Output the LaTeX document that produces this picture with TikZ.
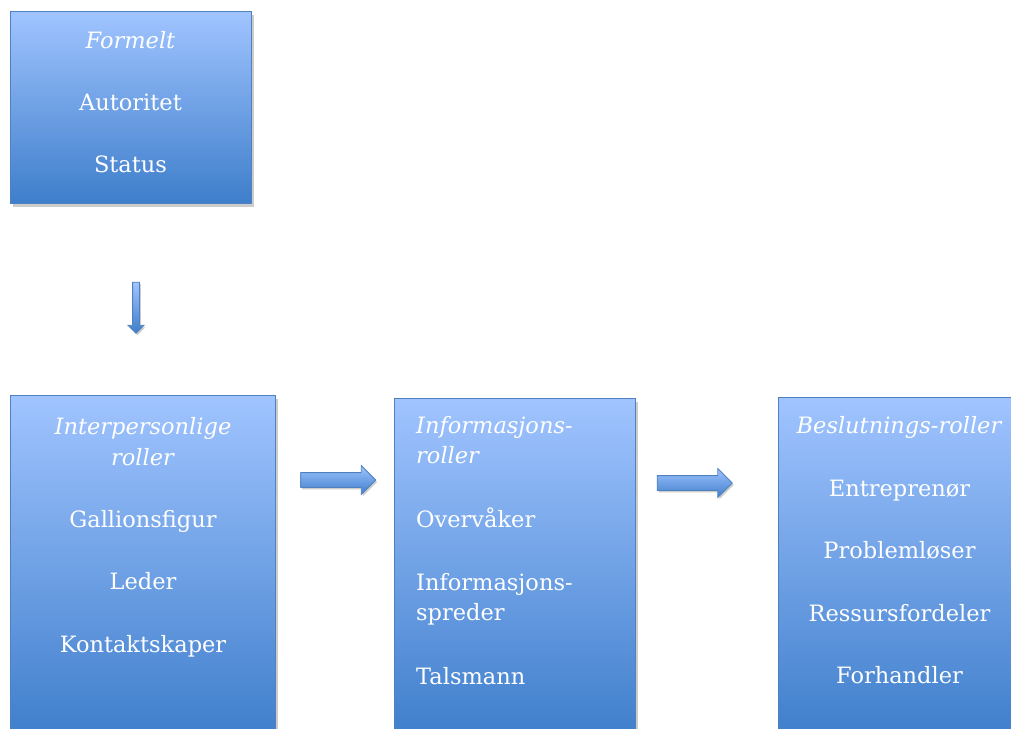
\documentclass[tikz,border=0pt]{standalone}
\usepackage{fontspec}
\setmainfont{DejaVu Serif}
\usetikzlibrary{positioning}
\usetikzlibrary{shapes.arrows}
\usetikzlibrary{shadows}

\definecolor{boxtop}{RGB}{160,196,255}
\definecolor{boxbot}{RGB}{62,126,203}
\definecolor{boxline}{RGB}{79,129,189}

\begin{document}
\begin{tikzpicture}[x=1pt, y=-1pt,
        rolebox/.style={rectangle, draw=boxline, line width=1pt, top color=boxtop, bottom color=boxbot,
            anchor=north west, inner sep=0pt,
            drop shadow={shadow xshift=2pt, shadow yshift=-3pt, fill=black, opacity=0.2}},
        roletext/.style={text=white, inner sep=0pt, anchor=base,
            font=\fontsize{22.5}{30.5}\selectfont},
        blockarrow/.style={single arrow, draw=boxline, line width=0.8pt, top color=boxtop, bottom color=boxbot,
            single arrow head extend=7pt, inner sep=7pt,
            drop shadow={shadow xshift=1.5pt, shadow yshift=-2pt, fill=black, opacity=0.2}}]
        \useasboundingbox (0,0) rectangle (1011,728);

        \node[rolebox, minimum width=241pt, minimum height=192pt] (formal) at (10,11) {};
        \node[rolebox, minimum width=265pt, minimum height=345pt] (interp) at (10,395) {};
        \node[rolebox, minimum width=241pt, minimum height=342pt] (info) at (394,398) {};
        \node[rolebox, minimum width=242pt, minimum height=343pt] (decision) at (778,397) {};

        % the base anchor sits on the last line
        \node[roletext, align=center] (formaltxt) at (130.5,172)
            {\textit{Formelt}\\[31.5pt] Autoritet\\[31.5pt] Status};
        \node[roletext, align=center] (interptxt) at (143,652)
            {\textit{Interpersonlige}\\ \textit{roller}\\[31.5pt] Gallionsfigur\\[32pt] Leder\\[32pt] Kontaktskaper};
        \node[roletext, align=left, anchor=base west] (infotxt) at (416,684)
            {\textit{Informasjons-}\\ \textit{roller}\\[33pt] Overvåker\\[32.5pt] Informasjons-\\ spreder\\[33pt] Talsmann};
        \node[roletext, align=center] (decisiontxt) at (899.5,683)
            {\textit{Beslutnings-roller}\\[32.5pt] Entreprenør\\[32pt] Problemløser\\[32pt] Ressursfordeler\\[31.5pt] Forhandler};

        \node[blockarrow, shape border rotate=270, inner sep=3pt, single arrow head extend=4.5pt,
            minimum height=51pt] (down) at (136,306) {};
        \node[blockarrow, minimum height=75pt] (right1) at (334.5,480) {};
        \node[blockarrow, minimum height=75pt] (right2) at (691,483) {};
    \end{tikzpicture}
\end{document}
